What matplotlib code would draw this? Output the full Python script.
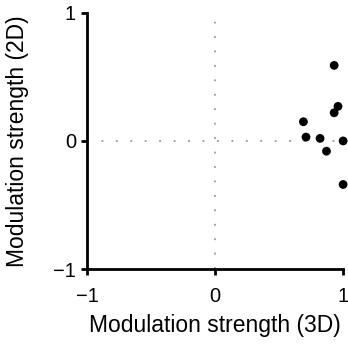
import matplotlib
matplotlib.use("Agg")
import matplotlib.pyplot as plt

x_3d = [0.93, 0.96, 0.93, 0.69, 0.71, 0.82, 1.0, 0.87, 1.0]
y_2d = [0.59, 0.27, 0.22, 0.15, 0.03, 0.02, 0.0, -0.08, -0.34]
ticks = [-1, 0, 1]
tick_labels = ["\u22121", "0", "1"]

plt.rcParams['font.family'] = ['Liberation Sans', 'DejaVu Sans']
fig = plt.figure(figsize=(3.48, 3.48), dpi=100)
ax = fig.add_axes([0.25, 0.227, 0.736, 0.736])
ax.axhline(0, color='#999999', linestyle=(0, (1, 7)), linewidth=1.3, zorder=0)
ax.axvline(0, color='#999999', linestyle=(0, (1, 7)), linewidth=1.3, zorder=0)
ax.scatter(x_3d, y_2d, s=40, color='black', edgecolors='none', clip_on=False, zorder=3)
ax.set_xlim(-1, 1)
ax.set_ylim(-1, 1)
ax.set_xticks(ticks)
ax.set_xticklabels(tick_labels)
ax.set_yticks(ticks)
ax.set_yticklabels(tick_labels)
for s in ['top', 'right']:
    ax.spines[s].set_visible(False)
for s in ['left', 'bottom']:
    ax.spines[s].set_linewidth(2)
ax.tick_params(direction='out', length=4, width=2, labelsize=14.5, pad=4)
ax.tick_params(axis='x', pad=9)
ax.set_xlabel('Modulation strength (3D)', fontsize=16.5, labelpad=6)
ax.set_ylabel('Modulation strength (2D)', fontsize=16.5, labelpad=17)
fig.savefig('out.png', dpi=100)
